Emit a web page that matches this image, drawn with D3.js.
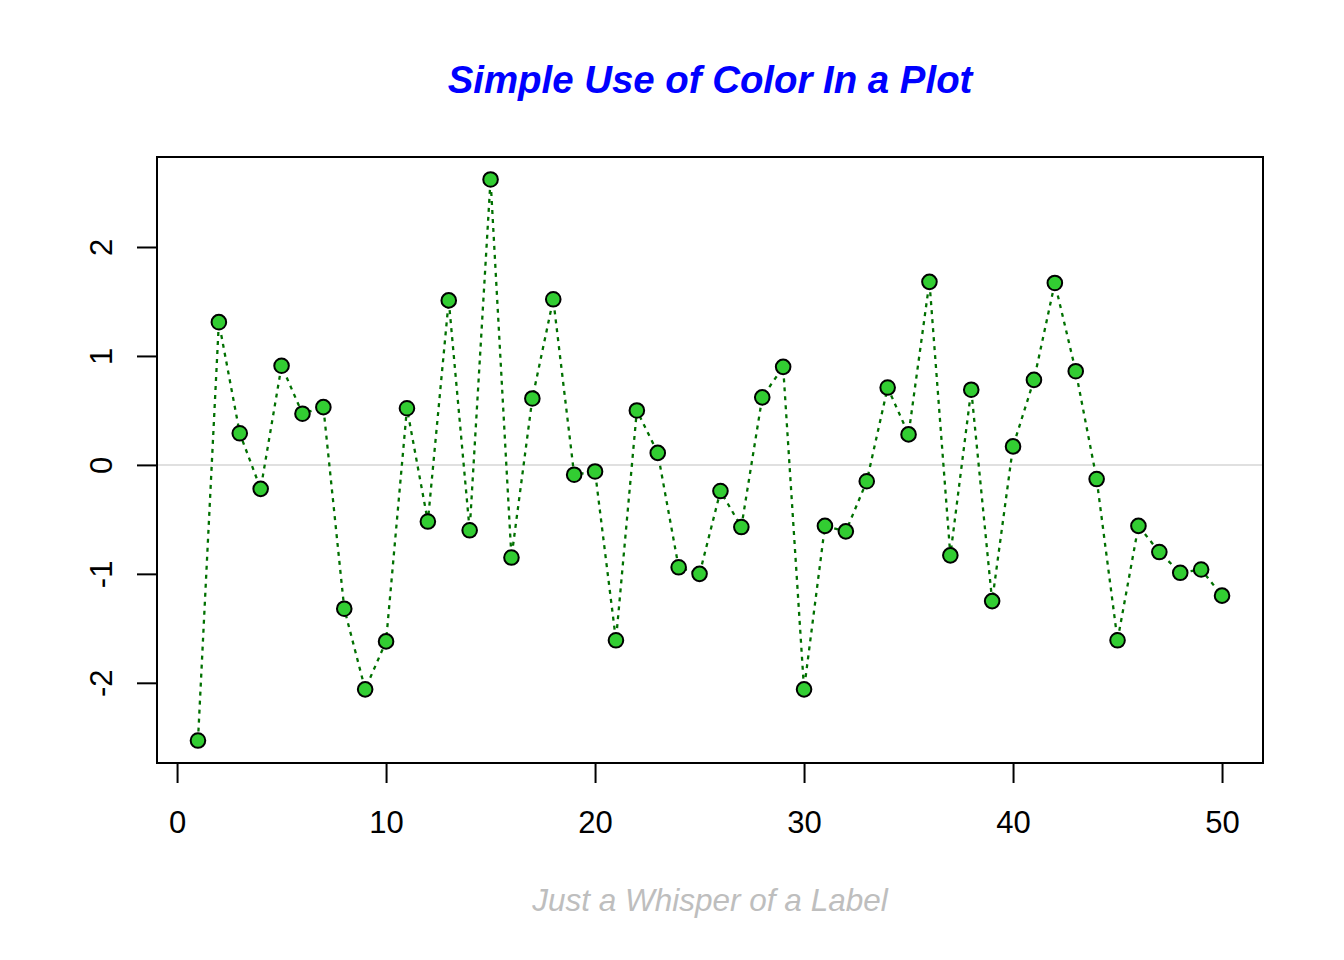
<!DOCTYPE html>
<html><head><meta charset="utf-8">
<script src="https://cdn.jsdelivr.net/npm/d3@7"></script>
<style>body{margin:0;background:#fff}svg{display:block}text{font-family:"Liberation Sans",Arial,sans-serif}</style>
</head><body>
<script>
const xIndex = d3.range(1, 51);
const yValues = [-2.53, 1.31, 0.29, -0.22, 0.91, 0.47, 0.53, -1.32, -2.06, -1.62,
  0.52, -0.52, 1.51, -0.60, 2.62, -0.85, 0.61, 1.52, -0.09, -0.06,
  -1.61, 0.50, 0.11, -0.94, -1.00, -0.24, -0.57, 0.62, 0.90, -2.06,
  -0.56, -0.61, -0.15, 0.71, 0.28, 1.68, -0.83, 0.69, -1.25, 0.17,
  0.78, 1.67, 0.86, -0.13, -1.61, -0.56, -0.80, -0.99, -0.96, -1.20];
const xTicks = [0, 10, 20, 30, 40, 50];
const yTicks = [-2, -1, 0, 1, 2];
const titleText = "Simple Use of Color In a Plot";
const xLabelText = "Just a Whisper of a Label";

const W = 1344, H = 960;
const L = 157, R = 1263, T = 157, B = 763;
const svg = d3.select("body").append("svg").attr("width", W).attr("height", H);

function ext(lo, hi){ const d = (hi - lo) * 0.04; return [lo - d, hi + d]; }
const x = d3.scaleLinear().domain(ext(1, 50)).range([L, R]);
const y = d3.scaleLinear().domain(ext(d3.min(yValues), d3.max(yValues))).range([B, T]);
const fmt = d => String(d);

// zero line
svg.append("line").attr("x1", L).attr("x2", R).attr("y1", y(0)).attr("y2", y(0))
  .attr("stroke", "#e0e0e0").attr("stroke-width", 2);

// line
const data = xIndex.map((d, i) => [d, yValues[i]]);
svg.append("path").datum(data)
  .attr("d", d3.line().x(d => x(d[0])).y(d => y(d[1])))
  .attr("fill", "none").attr("stroke", "#007000").attr("stroke-width", 2.3)
  .attr("stroke-dasharray", "4,5");

// points
svg.selectAll("circle.pt").data(data).join("circle").attr("class", "pt")
  .attr("cx", d => x(d[0])).attr("cy", d => y(d[1])).attr("r", 7.3)
  .attr("fill", "#32cd32").attr("stroke", "#000").attr("stroke-width", 2);

// box
svg.append("rect").attr("x", L).attr("y", T).attr("width", R - L).attr("height", B - T)
  .attr("fill", "none").attr("stroke", "#000").attr("stroke-width", 2);

// x axis
const xa = svg.append("g").attr("transform", `translate(0,${B})`)
  .call(d3.axisBottom(x).tickValues(xTicks).tickSize(20).tickSizeOuter(0).tickPadding(0).tickFormat(fmt));
xa.select(".domain").attr("d", `M${x(0)},0H${x(50)}`).attr("stroke-width", 2);
xa.selectAll(".tick line").attr("stroke-width", 2);
xa.selectAll(".tick text").attr("y", 833).attr("dy", null).attr("y", 70).attr("font-size", 31).attr("fill", "#000");

// y axis
const ya = svg.append("g").attr("transform", `translate(${L},0)`)
  .call(d3.axisLeft(y).tickValues(yTicks).tickSize(20).tickSizeOuter(0).tickFormat(fmt));
ya.select(".domain").attr("d", `M0,${y(-2)}V${y(2)}`).attr("stroke-width", 2);
ya.selectAll(".tick line").attr("stroke-width", 2);
ya.selectAll(".tick text").attr("x", null).attr("dy", null)
  .attr("transform", "translate(-45,0) rotate(-90)").attr("text-anchor", "middle")
  .attr("font-size", 31).attr("fill", "#000");

// title
svg.append("text").attr("x", (L + R) / 2).attr("y", 93).attr("text-anchor", "middle")
  .attr("font-size", 38.4).attr("font-weight", "bold").attr("font-style", "italic")
  .attr("fill", "#0000ff").text(titleText);

// x label
svg.append("text").attr("x", (L + R) / 2).attr("y", 911).attr("text-anchor", "middle")
  .attr("font-size", 31.5).attr("font-style", "italic").attr("fill", "#bebebe").text(xLabelText);
</script>
</body></html>
